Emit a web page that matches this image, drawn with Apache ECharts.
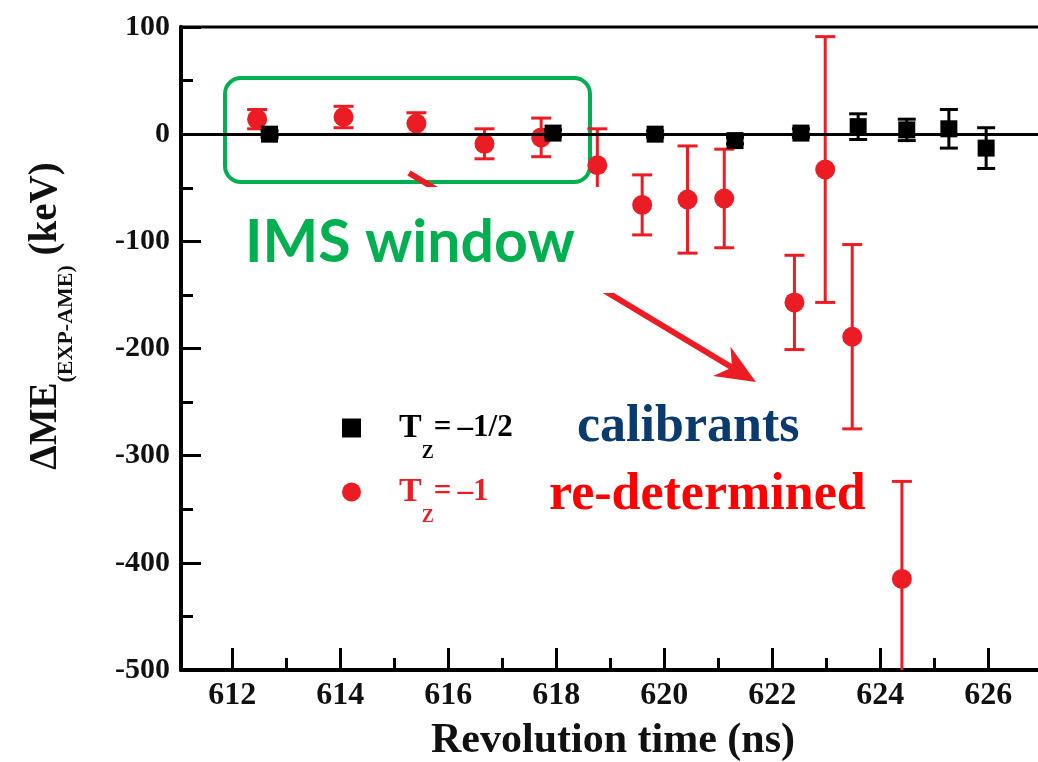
<!DOCTYPE html>
<html><head><meta charset="utf-8">
<script src="https://cdn.jsdelivr.net/npm/echarts@6/dist/echarts.min.js"></script>
<style>html,body{margin:0;padding:0;background:#fff}#c{width:1038px;height:762px}</style>
</head><body><div id="c"></div>
<script>
// ---- data ----
const xTickLabels = [612, 614, 616, 618, 620, 622, 624, 626];
const xMinorTicks = [613, 615, 617, 619, 621, 623, 625];
const yTicks = [-500, -400, -300, -200, -100, 0, 100];

// Tz = -1 (re-determined)
const redX   = [612.46, 614.06, 615.41, 616.67, 617.72, 618.76, 619.59, 620.43, 621.11, 622.41, 622.98, 623.48, 624.40];
const redY   = [14, 16, 10, -9, -3, -29, -66, -61, -60, -157, -33, -189, -415];
const redErr = [9, 10, 10, 14, 18, 34, 28, 50, 46, 44, 124, 86, 91];

// Tz = -1/2 (calibrants)
const blackX   = [612.69, 617.94, 619.83, 621.31, 622.53, 623.59, 624.49, 625.27, 625.96];
const blackY   = [0, 1, 0, -6, 1, 7, 4, 5, -13];
const blackErr = [3, 3, 3, 3, 4, 12, 10, 18, 19];

const seriesNames = ['Tz=-1/2', 'Tz=-1'];
const legendTexts = ['=\u2009\u20131/2', '=\u2009\u20131'];

// ---- styling ----
const SERIF = '"Liberation Serif","Times New Roman",serif';
const RED = '#ec1c24';
const BLACK = '#000';

function errRender(halfCap, color) {
  return function (params, api) {
    const x = api.value(0), lo = api.value(1), hi = api.value(2);
    const pLo = api.coord([x, lo]), pHi = api.coord([x, hi]);
    const style = { stroke: color, lineWidth: 3 };
    return {
      type: 'group',
      children: [
        { type: 'line', shape: { x1: pLo[0], y1: pLo[1], x2: pHi[0], y2: pHi[1] }, style },
        { type: 'line', shape: { x1: pLo[0] - halfCap, y1: pLo[1], x2: pLo[0] + halfCap, y2: pLo[1] }, style },
        { type: 'line', shape: { x1: pHi[0] - halfCap, y1: pHi[1], x2: pHi[0] + halfCap, y2: pHi[1] }, style }
      ]
    };
  };
}

const chart = echarts.init(document.getElementById('c'), null, { renderer: 'canvas' });

// arrow geometry (annotation)
const aS = [409, 173], aT = [756, 382];
const dx = aT[0] - aS[0], dy = aT[1] - aS[1], dl = Math.hypot(dx, dy);
const ux = dx / dl, uy = dy / dl, px = -uy, py = ux;
const hl = 40, hw = 17, notch = 28;
const base = [aT[0] - hl * ux, aT[1] - hl * uy];
const nt = [aT[0] - notch * ux, aT[1] - notch * uy];

const LH = 69;
const X_MIN = 611.05, X_MAX = 627.05;

const option = {
  backgroundColor: '#fff',
  animation: false,
  grid: {
    left: 181, right: -7, top: 27, bottom: 92, containLabel: false, outerBoundsMode: 'none',
    show: true, borderColor: '#000', borderWidth: 3, backgroundColor: 'transparent'
  },
  xAxis: [
    {
      type: 'value', min: X_MIN, max: X_MAX, position: 'bottom',
      axisLine: { onZero: false, lineStyle: { color: '#000', width: 4 } },
      axisTick: { inside: true, length: 22, customValues: xTickLabels, lineStyle: { color: '#000', width: 3 } },
      axisLabel: { customValues: xTickLabels, fontSize: 32, fontWeight: 'bold', fontFamily: SERIF, color: '#111', margin: 10 },
      splitLine: { show: false },
      name: 'Revolution time (ns)', nameLocation: 'middle', nameGap: 50,
      nameTextStyle: { fontSize: 42, fontWeight: 'bold', fontFamily: SERIF, color: '#111' }
    },
    {
      type: 'value', min: X_MIN, max: X_MAX, position: 'bottom',
      axisLine: { show: false, onZero: false },
      axisTick: { inside: true, length: 12, customValues: xMinorTicks, lineStyle: { color: '#000', width: 3 } },
      axisLabel: { show: false },
      splitLine: { show: false }
    }
  ],
  yAxis: {
    type: 'value', min: yTicks[0], max: yTicks[yTicks.length - 1], interval: 100,
    axisLine: { onZero: false, lineStyle: { color: '#000', width: 4 } },
    axisTick: { inside: true, length: 20, lineStyle: { color: '#000', width: 3 } },
    minorTick: { show: true, splitNumber: 2, length: 12, lineStyle: { color: '#000', width: 3 } },
    axisLabel: { fontSize: 30, fontWeight: 'bold', fontFamily: SERIF, color: '#111', margin: 11 },
    splitLine: { show: false }, minorSplitLine: { show: false }
  },
  legend: {
    orient: 'vertical', left: 337, top: 428 - LH / 2 - 5, itemGap: 64 - LH,
    itemWidth: 19, itemHeight: 19, selectedMode: false,
    data: [
      { name: seriesNames[0], icon: 'rect', textStyle: { color: BLACK } },
      { name: seriesNames[1], icon: 'circle', textStyle: { color: RED } }
    ],
    formatter: function (name) {
      const i = seriesNames.indexOf(name);
      return '{t|T}{z|Z}{e|' + legendTexts[i] + '}';
    },
    textStyle: {
      padding: [0, 0, 0, 33],
      lineHeight: LH,
      fontSize: 34,
      rich: {
        t: { fontSize: 34, fontWeight: 'bold', fontFamily: SERIF, lineHeight: LH, verticalAlign: 'middle' },
        e: { fontSize: 31, fontWeight: 'bold', fontFamily: SERIF, lineHeight: LH, verticalAlign: 'middle' },
        z: { fontSize: 18, fontWeight: 'bold', fontFamily: SERIF, lineHeight: LH, verticalAlign: 'bottom' }
      }
    }
  },
  series: [
    {
      type: 'line', data: [], xAxisIndex: 0, z: 1, silent: true,
      markLine: {
        silent: true, symbol: 'none', label: { show: false },
        lineStyle: { color: '#000', width: 3, type: 'solid' },
        data: [{ yAxis: 0 }]
      }
    },
    {
      type: 'custom', name: 'redErr', xAxisIndex: 0, z: 3, clip: true,
      renderItem: errRender(10, RED),
      encode: { x: 0, y: [1, 2] },
      data: redX.map((x, i) => [x, redY[i] - redErr[i], redY[i] + redErr[i]])
    },
    {
      type: 'scatter', name: seriesNames[1], xAxisIndex: 0, z: 4,
      symbol: 'circle', symbolSize: 20, itemStyle: { color: RED, opacity: 1 },
      data: redX.map((x, i) => [x, redY[i]])
    },
    {
      type: 'custom', name: 'blackErr', xAxisIndex: 0, z: 5, clip: true,
      renderItem: errRender(9, BLACK),
      encode: { x: 0, y: [1, 2] },
      data: blackX.map((x, i) => [x, blackY[i] - blackErr[i], blackY[i] + blackErr[i]])
    },
    {
      type: 'scatter', name: seriesNames[0], xAxisIndex: 0, z: 6,
      symbol: 'rect', symbolSize: 17, itemStyle: { color: BLACK, opacity: 1 },
      data: blackX.map((x, i) => [x, blackY[i]])
    }
  ],
  graphic: [
    // y-axis title
    {
      type: 'text', x: 46, y: 316, rotation: Math.PI / 2, z: 50,
      style: {
        text: '{a|\u0394ME}{b|(EXP-AME)}{a| (keV)}',
        align: 'center', verticalAlign: 'middle',
        fill: '#111',
        rich: {
          a: { fontSize: 39, fontWeight: 'bold', fontFamily: SERIF, lineHeight: 62, fill: '#111' },
          b: { fontSize: 22, fontWeight: 'bold', fontFamily: SERIF, lineHeight: 62, verticalAlign: 'bottom', fill: '#111' }
        }
      }
    },
    // IMS window box
    {
      type: 'rect', z: 1,
      shape: { x: 225, y: 78, width: 365, height: 104, r: 16 },
      style: { fill: 'none', stroke: '#00b050', lineWidth: 4 }
    },
    // arrow
    {
      type: 'line', z: 99,
      shape: { x1: aS[0], y1: aS[1], x2: nt[0], y2: nt[1] },
      style: { stroke: RED, lineWidth: 6 }
    },
    {
      type: 'polygon', z: 99,
      shape: { points: [aT, [base[0] + hw * px, base[1] + hw * py], nt, [base[0] - hw * px, base[1] - hw * py]] },
      style: { fill: RED }
    },
    // white patch behind label
    {
      type: 'rect', z: 100,
      shape: { x: 236, y: 187, width: 377, height: 106 },
      style: { fill: '#fff' }
    },
    {
      type: 'text', x: 245, y: 243, z: 101,
      style: { text: 'IMS window', fill: '#00b050', fontSize: 59, fontWeight: 'bold', fontFamily: 'Lato, "Open Sans", sans-serif', verticalAlign: 'middle' }
    },
    {
      type: 'text', x: 577, y: 428, z: 101,
      style: { text: 'calibrants', fill: '#0b3a6e', fontSize: 52, fontWeight: 'bold', fontFamily: SERIF, verticalAlign: 'middle' }
    },
    {
      type: 'text', x: 549, y: 496, z: 101,
      style: { text: 're-determined', fill: '#ff0000', fontSize: 52, fontWeight: 'bold', fontFamily: SERIF, verticalAlign: 'middle' }
    }
  ]
};
chart.setOption(option);
</script>
</body></html>
